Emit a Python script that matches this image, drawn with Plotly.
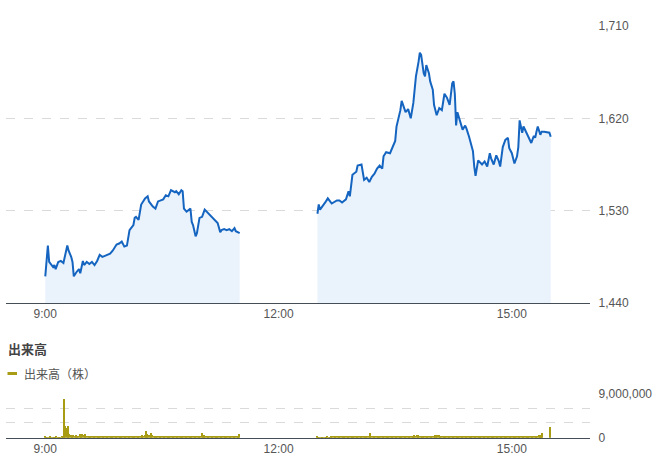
import plotly.graph_objects as go
import pandas as pd

DAY = "2024-12-02 "

# ---- price (yen), morning session ----
am_times = ["09:00","09:02","09:03","09:05","09:06","09:07","09:08","09:10","09:12","09:14",
            "09:15","09:17","09:18","09:20","09:21","09:22","09:24","09:26","09:27","09:29",
            "09:30","09:32","09:34","09:36","09:38","09:40","09:42","09:44","09:46","09:48",
            "09:50","09:52","09:55","09:57","09:59","10:01","10:03","10:05","10:08","10:09",
            "10:10","10:12","10:13","10:14","10:17","10:19","10:20","10:23","10:25","10:27",
            "10:31","10:33","10:35","10:37","10:40","10:41","10:43","10:45","10:46","10:47",
            "10:49","10:52","10:53","10:54","10:56","10:57","10:59","11:01","11:03","11:06",
            "11:08","11:11","11:13","11:15","11:16","11:18","11:20","11:22","11:24","11:26",
            "11:27","11:30"]
am_prices = [1466,1496,1480,1476,1475,1477,1473,1480,1481,1479,
             1485,1496,1491,1485,1480,1466,1470,1473,1469,1481,
             1477,1480,1478,1480,1477,1481,1487,1485,1486,1487,
             1488,1491,1497,1498,1500,1495,1496,1511,1516,1523,
             1524,1521,1529,1536,1542,1544,1539,1534,1532,1539,
             1541,1545,1544,1550,1548,1549,1546,1550,1549,1532,
             1529,1532,1519,1516,1505,1508,1523,1524,1531,1527,
             1525,1521,1518,1509,1511,1512,1511,1512,1510,1513,
             1510,1508]

# ---- price (yen), afternoon session ----
pm_times = ["12:30","12:31","12:32","12:34","12:36","12:38","12:41","12:45","12:47","12:49",
            "12:52","12:54","12:55","12:57","13:00","13:01","13:04","13:06","13:08","13:10",
            "13:12","13:14","13:16","13:18","13:20","13:21","13:23","13:26","13:28","13:30",
            "13:31","13:32","13:34","13:35","13:37","13:38","13:40","13:42","13:44","13:46",
            "13:48","13:49","13:50","13:52","13:53","13:54","13:56","13:57","13:59","14:00",
            "14:02","14:04","14:06","14:08","14:10","14:11","14:12","14:14","14:15","14:16",
            "14:17","14:18","14:20","14:22","14:24","14:25","14:27","14:29","14:30","14:31",
            "14:32","14:34","14:36","14:37","14:39","14:41","14:43","14:44","14:46","14:48",
            "14:50","14:51","14:53","14:55","14:57","14:58","15:00","15:02","15:04","15:05",
            "15:06","15:08","15:09","15:11","15:13","15:14","15:15","15:17","15:18","15:19",
            "15:20","15:22","15:23","15:25","15:29","15:30"]
pm_prices = [1527,1536,1531,1534,1538,1542,1537,1540,1540,1538,
             1541,1549,1544,1565,1568,1574,1575,1560,1562,1558,
             1563,1566,1571,1574,1571,1583,1587,1586,1592,1598,
             1612,1617,1628,1637,1628,1626,1629,1620,1635,1661,
             1675,1684,1682,1664,1661,1672,1664,1656,1648,1633,
             1623,1630,1628,1644,1640,1635,1633,1654,1656,1644,
             1613,1626,1618,1609,1613,1610,1602,1594,1588,1573,
             1564,1579,1576,1575,1578,1573,1586,1581,1575,1584,
             1578,1573,1592,1599,1601,1591,1586,1576,1583,1592,
             1618,1606,1612,1607,1602,1599,1596,1603,1601,1607,
             1612,1604,1607,1607,1606,1602]

# ---- volume per minute (thousand shares) ----
am_volume_k = [150,120,130,110,140,120,100,130,120,140,
               120,110,130,140,160,7900,2400,2000,2300,650,
               480,450,500,420,460,380,420,650,600,720,
               560,680,380,340,300,320,280,420,300,260,
               280,260,250,300,420,260,240,220,240,210,
               230,200,240,220,210,330,220,200,230,210,
               220,210,240,230,260,420,280,240,260,300,
               380,340,300,400,350,520,420,460,1300,820,
               600,520,900,480,420,380,300,280,320,260,
               300,420,300,280,260,240,250,220,260,330,
               240,210,200,220,200,230,210,240,200,220,
               230,210,200,240,260,220,250,230,300,280,
               420,900,380,500,300,260,280,300,320,420,
               300,260,240,220,250,230,200,220,210,200,
               230,190,200,210,180,200,190,220,200,210,
               720]
pm_volume_k = [150,120,110,130,100,120,110,130,140,120,
               130,150,140,200,260,420,240,200,180,220,
               200,180,210,190,230,220,200,240,260,230,
               250,220,240,260,230,250,270,300,260,280,
               320,850,400,300,280,260,300,270,250,260,
               260,240,280,300,260,250,230,260,240,280,
               300,320,280,260,300,280,250,270,300,320,
               280,300,340,380,420,480,400,620,440,380,
               360,320,300,340,320,300,280,300,320,360,
               400,480,520,460,500,420,380,350,330,300,
               320,300,280,300,320,300,280,260,300,320,
               300,280,260,300,320,340,300,280,260,300,
               320,300,280,330,360,320,300,280,300,260,
               280,300,320,400,340,300,280,260,300,320,
               300,280,300,320,300,280,260,300,280,260,
               300,320,280,300,260,280,300,320,300,280,
               260,300,280,300,320,300,280,260,300,320,
               380,520,400,450,900,0,0,0,0,0,
               2100]

x_ticks = ["09:00", "12:00", "15:00"]
x_tick_labels = ["9:00", "12:00", "15:00"]
price_ticks = [1440, 1530, 1620, 1710]
volume_ticks = [0, 3000000, 6000000, 9000000]
volume_tick_labels = ["0", "", "", "9,000,000"]

LINE = "#1565c0"
FILL = "#eaf3fc"
VOL = "#a89c14"
TXT = "#555555"
NUM_FONT = "Liberation Sans, Arial, sans-serif"
JP_FONT = "Noto Sans CJK JP, sans-serif"

W, H = 658, 459
def fx(px): return px / W
def fy(py): return 1 - py / H

def ts(lst):
    return pd.to_datetime([DAY + t for t in lst])

fig = go.Figure()
for tt, pp in ((am_times, am_prices), (pm_times, pm_prices)):
    fig.add_trace(go.Scatter(x=ts(tt), y=pp, mode="lines",
                             line=dict(color=LINE, width=2),
                             fill="tozeroy", fillcolor=FILL,
                             xaxis="x", yaxis="y", hoverinfo="skip"))

am_bar_x = pd.date_range(DAY + "09:00", periods=len(am_volume_k), freq="min")
pm_bar_x = pd.date_range(DAY + "12:30", periods=len(pm_volume_k), freq="min")
fig.add_trace(go.Bar(x=list(am_bar_x) + list(pm_bar_x),
                     y=[v * 1000 for v in am_volume_k + pm_volume_k],
                     width=60000, marker=dict(color=VOL, line=dict(width=0)),
                     xaxis="x2", yaxis="y2", hoverinfo="skip"))

xr = [DAY + "08:30", DAY + "16:00"]
xdom = [fx(6.4), fx(589.6)]
common_x = dict(type="date", range=xr, domain=xdom,
                tickvals=list(ts(x_ticks)), ticktext=x_tick_labels,
                showgrid=False, zeroline=False, showline=True,
                linecolor="#454d57", linewidth=1, ticks="", automargin=False,
                tickfont=dict(family=NUM_FONT, size=12, color=TXT))
common_y = dict(side="right", showline=False, zeroline=False, ticks="",
                gridcolor="#dadada", griddash="dash", gridwidth=1,
                ticklabelstandoff=8, automargin=False,
                tickfont=dict(family=NUM_FONT, size=12, color=TXT))

fig.update_layout(
    width=W, height=H, margin=dict(l=0, r=0, t=0, b=0, pad=0, autoexpand=False),
    autosize=False,
    paper_bgcolor="white", plot_bgcolor="white", showlegend=False,
    bargap=0,
    xaxis=dict(anchor="y", **common_x),
    yaxis=dict(anchor="x", domain=[fy(303), fy(25.7)], range=[1440, 1710.3],
               tickvals=price_ticks, tickformat=",", **common_y),
    xaxis2=dict(anchor="y2", **common_x),
    yaxis2=dict(anchor="x2", domain=[fy(437.7), fy(393.05)], range=[0, 9050000],
                tickvals=volume_ticks, ticktext=volume_tick_labels, **common_y),
    annotations=[
        dict(text="<b>出来高</b>", x=fx(6), y=fy(348), xref="paper", yref="paper",
             xanchor="left", yanchor="middle", showarrow=False,
             font=dict(family=JP_FONT, size=13, color="#444444")),
        dict(text="出来高（株）", x=fx(22), y=fy(373.5), xref="paper", yref="paper",
             xanchor="left", yanchor="middle", showarrow=False,
             font=dict(family=JP_FONT, size=12, color=TXT)),
    ],
    shapes=[dict(type="line", xref="paper", yref="paper",
                 x0=fx(7.5), x1=fx(17), y0=fy(373.5), y1=fy(373.5),
                 line=dict(color=VOL, width=3))],
)

fig.write_html("out.html", config={"responsive": False, "displayModeBar": False},
               post_script="document.body.style.margin='0';document.body.style.padding='0';")
